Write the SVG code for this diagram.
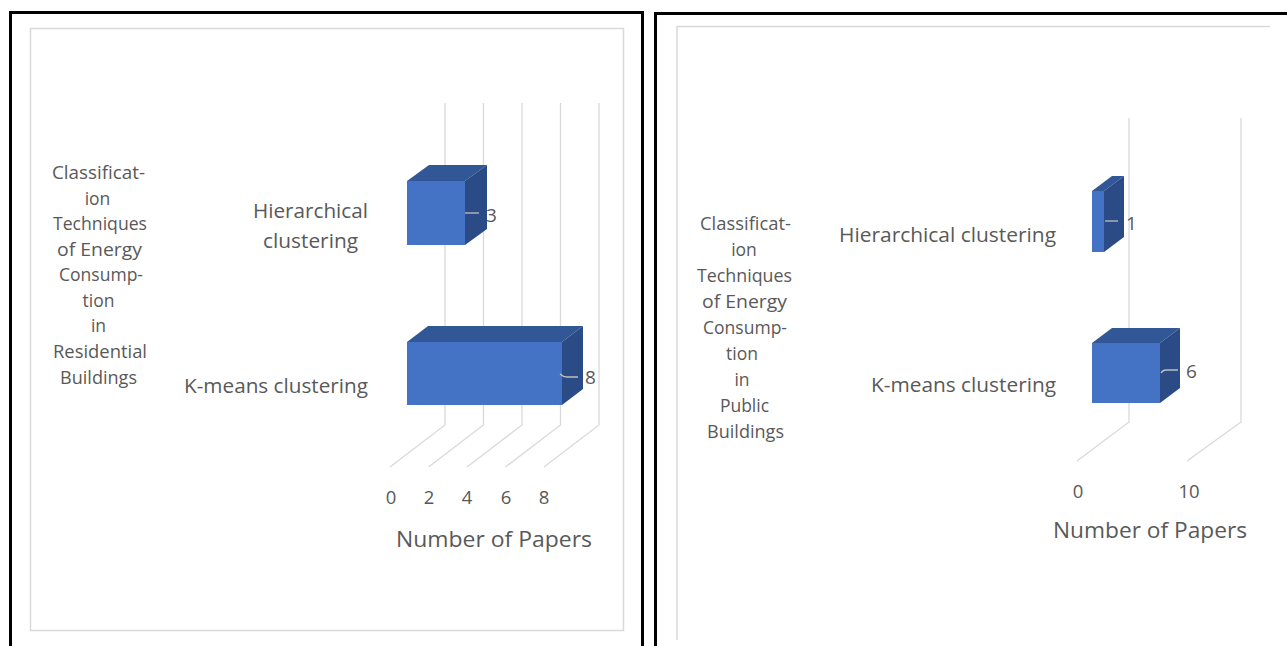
<svg xmlns="http://www.w3.org/2000/svg" width="1287" height="646" viewBox="0 0 1287 646">
  <style>
    .frame { fill: none; stroke: #000; stroke-width: 3; }
    .area { fill: none; stroke: #d9d9d9; stroke-width: 1.5; }
    .grid { fill: none; stroke: #d9d9d9; stroke-width: 1.3; }
    .front { fill: #4472c4; }
    .top { fill: #325796; }
    .side { fill: #2a4b86; }
    .leader { fill: none; stroke: #bfbfbf; stroke-width: 1.3; }
    text { font-family: "Open Sans", Lato, "Liberation Sans", sans-serif; fill: #595959; font-variant-ligatures: none; }
    .title { font-size: 17.5px; }
    .cat { font-size: 19.5px; }
    .tick { font-size: 18.5px; }
    .val { font-size: 19px; }
    .axis { font-size: 21.5px; }
  </style>
  <rect width="1287" height="646" fill="#fff"/>

  <!-- Left chart: residential buildings -->
  <g id="panel-residential">
    <path class="frame" d="M10.5 660 V12.5 H642.5 V660"/>
    <rect class="area" x="30.5" y="28.5" width="593" height="602"/>
    <g id="grid-residential">
      <path class="grid" d="M445 103 V425 L390 467 M483.5 103 V425 L428.5 467 M522 103 V425 L467 467 M560.5 103 V425 L505.5 467 M599 103 V425 L544 467"/>
    </g>
    <g id="title-residential" class="title" text-anchor="middle">
      <text x="98.5" y="179" textLength="93" lengthAdjust="spacingAndGlyphs">Classificat-</text>
      <text x="97.5" y="205">ion</text>
      <text x="100" y="230" textLength="94" lengthAdjust="spacingAndGlyphs">Techniques</text>
      <text x="99.5" y="256" textLength="85" lengthAdjust="spacingAndGlyphs">of Energy</text>
      <text x="101" y="281" textLength="84" lengthAdjust="spacingAndGlyphs">Consump-</text>
      <text x="98.5" y="307">tion</text>
      <text x="98.5" y="332">in</text>
      <text x="100" y="358" textLength="94" lengthAdjust="spacingAndGlyphs">Residential</text>
      <text x="98.5" y="384" textLength="77" lengthAdjust="spacingAndGlyphs">Buildings</text>
    </g>
    <g id="categories-residential" class="cat">
      <text x="253" y="218" textLength="115" lengthAdjust="spacingAndGlyphs">Hierarchical</text>
      <text x="263" y="248" textLength="95" lengthAdjust="spacingAndGlyphs">clustering</text>
      <text x="184" y="393" textLength="184" lengthAdjust="spacingAndGlyphs">K-means clustering</text>
    </g>
    <g id="bar-res-hierarchical">
      <polygon class="top" points="407,181 465,181 487,165 429,165"/>
      <polygon class="side" points="465,181 487,165 487,229 465,245"/>
      <rect class="front" x="407" y="181" width="58" height="64"/>
    </g>
    <g id="bar-res-kmeans">
      <polygon class="top" points="407,342 562,342 583,326 428,326"/>
      <polygon class="side" points="562,342 583,326 583,389 562,405"/>
      <rect class="front" x="407" y="342" width="155" height="63"/>
    </g>
    <g id="ticks-residential" class="tick" text-anchor="middle">
      <text x="391" y="504">0</text>
      <text x="429" y="504">2</text>
      <text x="467" y="504">4</text>
      <text x="506" y="504">6</text>
      <text x="544" y="504">8</text>
    </g>
    <text id="axis-residential" class="axis" x="396" y="547" textLength="196" lengthAdjust="spacingAndGlyphs">Number of Papers</text>
    <g id="values-residential" class="val">
      <text x="486" y="222">3</text>
      <text x="585" y="384">8</text>
    </g>
  </g>

  <!-- Right chart: public buildings -->
  <g id="panel-public">
    <path class="frame" d="M655.5 660 V13.5 H1300"/>
    <path class="area" d="M677 640 V26.5 H1270"/>
    <g id="grid-public">
      <path class="grid" d="M1129 118 V422 L1077 461 M1241 118 V422 L1187 461"/>
    </g>
    <g id="title-public" class="title" text-anchor="middle">
      <text x="745.5" y="230" textLength="91" lengthAdjust="spacingAndGlyphs">Classificat-</text>
      <text x="744" y="256">ion</text>
      <text x="744.5" y="282" textLength="95" lengthAdjust="spacingAndGlyphs">Techniques</text>
      <text x="744.5" y="308" textLength="85" lengthAdjust="spacingAndGlyphs">of Energy</text>
      <text x="745" y="334" textLength="84" lengthAdjust="spacingAndGlyphs">Consump-</text>
      <text x="742" y="360">tion</text>
      <text x="742" y="386">in</text>
      <text x="744.5" y="412">Public</text>
      <text x="745.5" y="438" textLength="77" lengthAdjust="spacingAndGlyphs">Buildings</text>
    </g>
    <g id="categories-public" class="cat">
      <text x="839" y="242" textLength="217" lengthAdjust="spacingAndGlyphs">Hierarchical clustering</text>
      <text x="871" y="392" textLength="185" lengthAdjust="spacingAndGlyphs">K-means clustering</text>
    </g>
    <g id="bar-pub-hierarchical">
      <polygon class="top" points="1092,191 1104,191 1124,176 1112,176"/>
      <polygon class="side" points="1104,191 1124,176 1124,237 1104,252"/>
      <rect class="front" x="1092" y="191" width="12" height="61"/>
    </g>
    <g id="bar-pub-kmeans">
      <polygon class="top" points="1092,343 1160,343 1180,328 1112,328"/>
      <polygon class="side" points="1160,343 1180,328 1180,388 1160,403"/>
      <rect class="front" x="1092" y="343" width="68" height="60"/>
    </g>
    <g id="ticks-public" class="tick" text-anchor="middle">
      <text x="1078" y="498">0</text>
      <text x="1189" y="498">10</text>
    </g>
    <text id="axis-public" class="axis" x="1053" y="538" textLength="194" lengthAdjust="spacingAndGlyphs">Number of Papers</text>
    <g id="values-public" class="val">
      <text x="1126" y="230">1</text>
      <text x="1186" y="378">6</text>
    </g>
  </g>

  <!-- Leader lines from bar ends to value labels -->
  <g id="connectors">
    <path class="leader" d="M465 213 H479"/>
    <path class="leader" d="M560 374 Q563 377 567 377 H578"/>
    <path class="leader" d="M1105 221 H1118"/>
    <path class="leader" d="M1161 373 Q1163 370 1166 370 H1178"/>
  </g>
</svg>
